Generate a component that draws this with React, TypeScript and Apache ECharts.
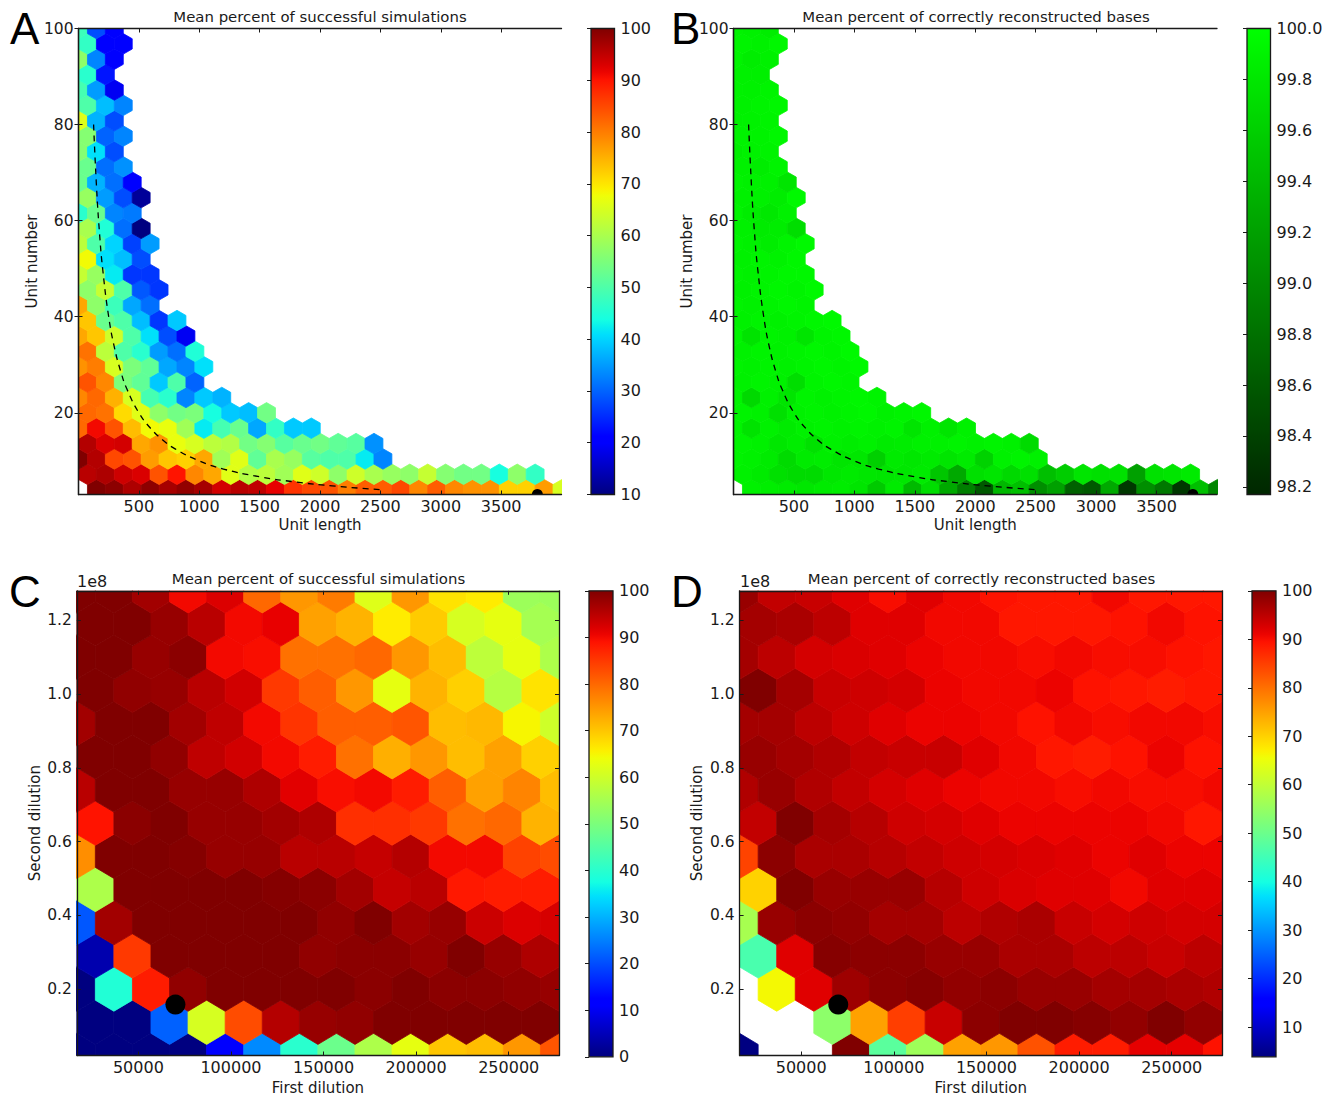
import React, { useEffect, useRef } from "react";
import * as echarts from "echarts";

const FONT = "DejaVu Sans";
const INK = "#1a1a1a";

// Panel A: mean percent of successful simulations, rows bottom to top
const successByUnit: (number | null)[][] = [
  [null,100,99,96.5,99,97,98.5,97,93.5,95.5,95,92,87,85,84,80,83,83,85,79,83,79,78,78,72,72,77,65],
  [95.5,96.5,94,93,84,90,79,76,66,61,62,59,66,64,57,64,60,58,57,63,56,54,54,44,57,47],
  [100,96,85,84,77,73,72,76,59,66,52,60,58,51,50,50,42,33],
  [96,93,93.5,76,78,67,65,62,61,54,56,51,53,54,52,51,34],
  [82,91,84,74,68,67,59,42,49,53,36,47,39,39],
  [82,81,71,66,57,54,55,44,39,38,54],
  [79,82,75,65,49,46,33,39,37],
  [84,79,55,52,39,50,30],
  [78,80,65,55,52,36,33,41],
  [81,62,50,46,35,31,45],
  [76,73,64,50,41,28,19],
  [73,53,50,38,26,39],
  [76,57,48,36,31],
  [57,63,50,29,26],
  [63,58,42,26,26],
  [68,41,38,28],
  [62,50,40,27,35],
  [60,45,31,10],
  [46,53,33,32],
  [58,35,28,12],
  [53,37,31,21],
  [53,31,34],
  [56,41,28],
  [56,30,33],
  [66,37,28],
  [50,38,33],
  [49,35,19],
  [46,23],
  [57,33,20],
  [47,20,20],
  [48,28,20],
];

// Panel B: mean percent of correctly reconstructed bases, rows bottom to top
const basesByUnit: (number | null)[][] = [
  [null,99.88,99.86,99.83,99.8,99.83,99.85,99.78,99.55,99.83,99.42,99.72,99.27,98.92,98.6,99.4,99.46,99.05,99.2,98.67,98.6,99.27,98.32,99.05,98.86,98.32,99.46,98.98],
  [99.88,99.83,99.74,99.7,99.7,99.8,99.83,99.8,99.78,99.8,99.83,99.52,99.27,99.74,99.78,99.68,99.74,99.46,99.58,99.78,99.74,99.75,99.2,99.75,99.78,99.83],
  [99.91,99.88,99.83,99.7,99.83,99.85,99.78,99.8,99.6,99.83,99.8,99.83,99.78,99.83,99.62,99.88,99.91,99.88],
  [99.91,99.88,99.8,99.85,99.75,99.88,99.85,99.88,99.83,99.85,99.88,99.88,99.91,99.88,99.91,99.88,99.7],
  [99.91,99.76,99.88,99.83,99.88,99.91,99.88,99.91,99.88,99.91,99.78,99.88,99.78,99.88],
  [99.91,99.88,99.74,99.88,99.91,99.88,99.91,99.93,99.88,99.91,99.93],
  [99.91,99.68,99.88,99.78,99.91,99.88,99.91,99.93,99.91],
  [99.88,99.91,99.88,99.72,99.91,99.93,99.91],
  [99.91,99.88,99.91,99.88,99.91,99.93,99.91,99.95],
  [99.88,99.91,99.88,99.91,99.93,99.91,99.95],
  [99.91,99.76,99.91,99.88,99.78,99.91,99.93],
  [99.88,99.91,99.88,99.91,99.93,99.95],
  [99.91,99.88,99.91,99.93,99.91],
  [99.88,99.91,99.93,99.91,99.95],
  [99.91,99.88,99.91,99.93,99.93],
  [99.88,99.91,99.89,99.93],
  [99.91,99.88,99.85,99.91,99.95],
  [99.88,99.83,99.85,99.72],
  [99.91,99.85,99.81,99.88],
  [99.88,99.88,99.85,99.95],
  [99.91,99.88,99.88,99.78],
  [99.88,99.85,99.91],
  [99.86,99.89,99.9],
  [99.89,99.9,99.93],
  [99.88,99.89,99.91],
  [99.88,99.91,99.93],
  [99.89,99.88,99.91],
  [99.88,99.87],
  [99.91,99.85,99.88],
  [99.91,99.88,99.93],
  [99.9,99.88,99.85],
];

// Panel C: mean percent of successful simulations, rows bottom to top
const successByDilution: (number | null)[][] = [
  [0,0,0,0,12,26,40,48,56,63,70,71,75,82],
  [0,0,22,61,83,95.5,98,98.5,100,100,100,100,100],
  [0,39,88,98.5,100,100,100,100,99,100,99,99,98.5,98],
  [4,85,100,100,100,100,98.5,99,99,98,100,98,96],
  [21,97,100,100,100,100,100,98.5,100,97,98,93.5,92,92.5],
  [56,100,100,100,100,99.5,99,97,94,95,88.5,88,88],
  [76,100,100,99.5,98,98,95,95,94,95.5,90,90,84,83],
  [89,99,100,98,98,97,96,86,86,85,79,80,72],
  [95,100,100,98,98,96,91.5,89.5,90,88,81,74,77,71],
  [100,100,98.5,94.5,93,90,88,79,72.5,75,71,74,69],
  [97,100,100,97,94.5,90,85.5,81,81,82,71,71.5,65,60],
  [100,98.5,98,95,93,85,81,75,63,72,69,57,67],
  [100,100,98,99,90,89.5,79,79,80,75,71,58,63,56],
  [100,100,98,95,90,91,74,72,66,69.5,61,63,55],
  [100,100,97,90,92,80,75,78,62,75,67,66,54,54],
];

// Panel D: mean percent of correctly reconstructed bases, rows bottom to top
const basesByDilution: (number | null)[][] = [
  [4,null,null,100,48,56,75,76,83,88.5,88.5,91.5,91.5,89.5],
  [null,null,54,75,85,94,99,100,100,99.5,98.5,100,98.5],
  [null,66,92,97.5,99,99.5,98.5,99,98,98,97,97,96.5,96],
  [46,92,99.5,99,99,98,98,96.5,96.5,95,95,94,95],
  [57,98,99,98.5,97,97,95,96,96.5,94,93,93.5,93,93],
  [70,100,98,98,98,95.5,93.5,92.5,92,92,90.5,92,92],
  [84.5,99,96.5,96.5,95.5,94.5,93.5,93,92.5,92,91,92,91,91],
  [94.5,100,97,95.5,93.5,93,92,91,91,91,91,90.5,89],
  [96,98,96,94.5,93,92,91,90.5,90.5,90,90.5,90,90,90.5],
  [98,97,96,94.5,94,94,92,90.5,89,88.5,89.5,91,89.5],
  [97,97,95,93.5,92,91,91,90.5,89.5,90.5,90,90.5,90.5,90],
  [100,97,94,93.5,93,91,90.5,90.5,91,89.5,89,88.5,89],
  [97,95,93,92.5,92,91,90.5,90.5,90,90.5,90,90,89.5,89],
  [97,96.5,95,92,92,90.5,90.5,89,89,89,89.5,90.5,89.5],
  [98,94.5,94,92,90,92,90.5,89.5,89,89,90.5,89,89,89],
];

// Dashed reference curve (unit length, unit number)
const curveLength = [125,150,175,200,250,300,350,400,500,600,700,800,1000,1200,1500,1800,2100,2500];
const curveUnits = [80,66.7,57.1,50,40,33.3,28.6,25,20,16.7,14.3,12.5,10,8.3,6.7,5.6,4.8,4];

// Black markers
const markerUnit: [number, number] = [3800, 3];
const markerDilution: [number, number] = [70000, 0.158];

// Tick labels
const unitLengthTicks = [500,1000,1500,2000,2500,3000,3500];
const unitNumberTicks = [20,40,60,80,100];
const firstDilutionTicks = [50000,100000,150000,200000,250000];
const secondDilutionTicks = [0.2,0.4,0.6,0.8,1.0,1.2];
const barTicksA = [10,20,30,40,50,60,70,80,90,100];
const barTicksB = [98.2,98.4,98.6,98.8,99.0,99.2,99.4,99.6,99.8,100.0];
const barTicksC = [0,10,20,30,40,50,60,70,80,90,100];
const barTicksD = [10,20,30,40,50,60,70,80,90,100];

const TITLE_SIM = "Mean percent of successful simulations";
const TITLE_BASES = "Mean percent of correctly reconstructed bases";

function lerpChannel(stops: number[][], f: number) {
  for (let i = 1; i < stops.length; i++) {
    if (f <= stops[i][0]) {
      const [a, va] = stops[i - 1];
      const [b, vb] = stops[i];
      return va + ((vb - va) * (f - a)) / (b - a);
    }
  }
  return stops[stops.length - 1][1];
}
const R = [[0,0],[0.35,0],[0.66,1],[0.89,1],[1,0.5]];
const G = [[0,0],[0.125,0],[0.375,1],[0.64,1],[0.91,0],[1,0]];
const B = [[0,0.5],[0.11,1],[0.34,1],[0.65,0],[1,0]];
const rgb = (r: number, g: number, b: number) =>
  `rgb(${Math.round(r * 255)},${Math.round(g * 255)},${Math.round(b * 255)})`;
const jet = (f: number) => {
  const t = Math.max(0, Math.min(1, f));
  return rgb(lerpChannel(R, t), lerpChannel(G, t), lerpChannel(B, t));
};
const greens = (f: number) => rgb(0, 0.15 + 0.85 * Math.max(0, Math.min(1, f)), 0);

type Panel = {
  rows: (number | null)[][];
  title: string;
  titleX: number;
  titleY: number;
  grid: { left: number; top: number; width: number; height: number };
  bar: { left: number; width: number; min: number; max: number; ticks: number[]; digits: number };
  x: { min: number; max: number; ticks: number[]; name: string; gap: number };
  y: { min: number; max: number; ticks: number[]; name: string; digits: number; gap: number };
  hex: { x0: number; sx: number; y0: number; sy: number };
  cmap: (f: number) => string;
  curve: boolean;
  marker: [number, number];
  markerRadius: number;
};

const panels: Panel[] = [
  {
    rows: successByUnit, title: TITLE_SIM, titleX: 320, titleY: 9.5,
    grid: { left: 78.5, top: 28.5, width: 483, height: 466 },
    bar: { left: 591, width: 23.5, min: 10, max: 100, ticks: barTicksA, digits: 0 },
    x: { min: 0, max: 4000, ticks: unitLengthTicks, name: "Unit length", gap: 23 },
    y: { min: 3, max: 100, ticks: unitNumberTicks, name: "Unit number", digits: 0, gap: 39 },
    hex: { x0: 0, sx: 148.3, y0: 4, sy: 6.4 },
    cmap: jet, curve: true, marker: markerUnit, markerRadius: 5.5,
  },
  {
    rows: basesByUnit, title: TITLE_BASES, titleX: 976, titleY: 9.5,
    grid: { left: 733.5, top: 28.5, width: 483.5, height: 466 },
    bar: { left: 1247, width: 23.5, min: 98.17, max: 100, ticks: barTicksB, digits: 1 },
    x: { min: 0, max: 4000, ticks: unitLengthTicks, name: "Unit length", gap: 23 },
    y: { min: 3, max: 100, ticks: unitNumberTicks, name: "Unit number", digits: 0, gap: 39 },
    hex: { x0: 0, sx: 148.3, y0: 4, sy: 6.4 },
    cmap: greens, curve: true, marker: markerUnit, markerRadius: 5.5,
  },
  {
    rows: successByDilution, title: TITLE_SIM, titleX: 318.5, titleY: 571.5,
    grid: { left: 76.8, top: 590.8, width: 482.2, height: 466 },
    bar: { left: 589, width: 24, min: 0, max: 100, ticks: barTicksC, digits: 0 },
    x: { min: 16740, max: 277160, ticks: firstDilutionTicks, name: "First dilution", gap: 24.5 },
    y: { min: 0.02, max: 1.28, ticks: secondDilutionTicks, name: "Second dilution", digits: 1, gap: 34 },
    hex: { x0: 16740, sx: 20032, y0: 0.02, sy: 0.18 },
    cmap: jet, curve: false, marker: markerDilution, markerRadius: 10,
  },
  {
    rows: basesByDilution, title: TITLE_BASES, titleX: 981.5, titleY: 571.5,
    grid: { left: 739.6, top: 590.8, width: 482.4, height: 466 },
    bar: { left: 1252, width: 24, min: 3.87, max: 100, ticks: barTicksD, digits: 0 },
    x: { min: 16740, max: 277160, ticks: firstDilutionTicks, name: "First dilution", gap: 24.5 },
    y: { min: 0.02, max: 1.28, ticks: secondDilutionTicks, name: "Second dilution", digits: 1, gap: 35 },
    hex: { x0: 16740, sx: 20032, y0: 0.02, sy: 0.18 },
    cmap: jet, curve: false, marker: markerDilution, markerRadius: 10,
  },
];

const letters = [
  { text: "A", x: 10, y: 6 },
  { text: "B", x: 671, y: 6 },
  { text: "C", x: 9, y: 569 },
  { text: "D", x: 671, y: 569 },
];

function buildOption() {
  const grid: any[] = [];
  const xAxis: any[] = [];
  const yAxis: any[] = [];
  const series: any[] = [];
  const title: any[] = [];

  const tickStyle = { lineStyle: { color: INK, width: 1 }, length: 4, inside: true };
  const lineStyle = { lineStyle: { color: INK, width: 1.3 } };

  panels.forEach((p) => {
    const g = grid.length;
    grid.push({ ...p.grid });
    const xi = xAxis.length;
    const yi = yAxis.length;
    title.push({
      text: p.title, left: p.titleX, top: p.titleY, textAlign: "center", padding: 0,
      textStyle: { fontFamily: FONT, fontSize: 14.9, fontWeight: "normal", color: INK },
    });
    xAxis.push(
      {
        type: "value", gridIndex: g, min: p.x.min, max: p.x.max, z: 6, position: "bottom",
        name: p.x.name, nameLocation: "middle", nameGap: p.x.gap,
        nameTextStyle: { fontFamily: FONT, fontSize: 15, color: INK },
        splitLine: { show: false }, axisLine: { show: true, ...lineStyle },
        axisTick: { ...tickStyle, customValues: p.x.ticks },
        axisLabel: { customValues: p.x.ticks, fontFamily: FONT, fontSize: 16, color: INK, margin: 4, formatter: (v: number) => String(v) },
      },
      {
        type: "value", gridIndex: g, min: p.x.min, max: p.x.max, z: 6, position: "top",
        splitLine: { show: false }, axisLine: { show: true, ...lineStyle },
        axisTick: { ...tickStyle, customValues: p.x.ticks }, axisLabel: { show: false },
      },
    );
    yAxis.push(
      {
        type: "value", gridIndex: g, min: p.y.min, max: p.y.max, z: 6, position: "left",
        name: p.y.name, nameLocation: "middle", nameGap: p.y.gap, nameRotate: 90,
        nameTextStyle: { fontFamily: FONT, fontSize: 15, color: INK },
        splitLine: { show: false }, axisLine: { show: true, ...lineStyle },
        axisTick: { ...tickStyle, customValues: p.y.ticks },
        axisLabel: { customValues: p.y.ticks, fontFamily: FONT, fontSize: 15.5, color: INK, margin: 5, formatter: (v: number) => v.toFixed(p.y.digits) },
      },
      {
        type: "value", gridIndex: g, min: p.y.min, max: p.y.max, z: 6, position: "right",
        splitLine: { show: false }, axisLine: { show: true, ...lineStyle },
        axisTick: { ...tickStyle, customValues: p.y.ticks }, axisLabel: { show: false },
      },
    );

    const { x0, sx, y0, sy } = p.hex;
    const data: number[][] = [];
    p.rows.forEach((row, j) => {
      row.forEach((v, i) => {
        if (v === null) return;
        data.push([x0 + (i + (j % 2 ? 0.5 : 0)) * sx, y0 + (j * sy) / 2, v]);
      });
    });
    const span = p.bar.max - p.bar.min;
    series.push({
      type: "custom", coordinateSystem: "cartesian2d", xAxisIndex: xi, yAxisIndex: yi, clip: true, z: 2,
      encode: { x: 0, y: 1 }, data, silent: true,
      renderItem: (_: any, api: any) => {
        const cx = api.value(0);
        const cy = api.value(1);
        const fill = p.cmap((api.value(2) - p.bar.min) / span);
        const pts = [
          [cx + sx / 2, cy - sy / 6], [cx + sx / 2, cy + sy / 6], [cx, cy + sy / 3],
          [cx - sx / 2, cy + sy / 6], [cx - sx / 2, cy - sy / 6], [cx, cy - sy / 3],
        ].map((q) => api.coord(q));
        return { type: "polygon", shape: { points: pts }, style: { fill, stroke: fill, lineWidth: 0.8 } };
      },
    });
    if (p.curve) {
      series.push({
        type: "line", xAxisIndex: xi, yAxisIndex: yi, showSymbol: false, smooth: true, z: 3, silent: true,
        data: curveLength.map((x, i) => [x, curveUnits[i]]),
        lineStyle: { color: "#000", width: 1.3, type: [6, 5] },
      });
    }
    series.push({
      type: "custom", coordinateSystem: "cartesian2d", xAxisIndex: xi, yAxisIndex: yi, z: 4, silent: true, clip: true,
      encode: { x: 0, y: 1 }, data: [p.marker],
      renderItem: (_: any, api: any) => {
        const c = api.coord([api.value(0), api.value(1)]);
        return { type: "circle", shape: { cx: c[0], cy: c[1], r: p.markerRadius }, style: { fill: "#000" } };
      },
    });

    // colour bar
    const gb = grid.length;
    grid.push({ left: p.bar.left, width: p.bar.width, top: p.grid.top, height: p.grid.height });
    const xb = xAxis.length;
    const yb = yAxis.length;
    xAxis.push({ type: "value", gridIndex: gb, min: 0, max: 1, show: false });
    yAxis.push({
      type: "value", gridIndex: gb, min: p.bar.min, max: p.bar.max, position: "right", z: 6,
      splitLine: { show: false }, axisLine: { show: false },
      axisTick: { ...tickStyle, customValues: p.bar.ticks },
      axisLabel: { customValues: p.bar.ticks, fontFamily: FONT, fontSize: 16, color: INK, margin: 6, formatter: (v: number) => v.toFixed(p.bar.digits) },
    });
    const stops = Array.from({ length: 65 }, (_, i) => ({ offset: i / 64, color: p.cmap(1 - i / 64) }));
    series.push({
      type: "custom", coordinateSystem: "cartesian2d", xAxisIndex: xb, yAxisIndex: yb, z: 2, silent: true,
      encode: { x: 0, y: 1 }, data: [[0, p.bar.min]],
      renderItem: (_: any, api: any) => {
        const a = api.coord([0, p.bar.max]);
        const b = api.coord([1, p.bar.min]);
        return {
          type: "rect",
          shape: { x: a[0], y: a[1], width: b[0] - a[0], height: b[1] - a[1] },
          style: { fill: new echarts.graphic.LinearGradient(0, 0, 0, 1, stops), stroke: INK, lineWidth: 1.3 },
        };
      },
    });
  });

  const graphic: any[] = letters.map((l) => ({
    type: "text", x: l.x, y: l.y, z: 20,
    style: { text: l.text, font: "44px 'Liberation Sans'", fill: "#000" },
  }));
  graphic.push(
    { type: "text", x: 77, y: 573, z: 20, style: { text: "1e8", font: `16px '${FONT}'`, fill: INK } },
    { type: "text", x: 740, y: 573, z: 20, style: { text: "1e8", font: `16px '${FONT}'`, fill: INK } },
  );

  return { animation: false, backgroundColor: "#fff", title, grid, xAxis, yAxis, series, graphic };
}

export default function App() {
  const ref = useRef<HTMLDivElement>(null);
  useEffect(() => {
    document.body.style.margin = "0";
    const chart = echarts.init(ref.current!, undefined, { renderer: "svg" });
    chart.setOption(buildOption() as any);
    return () => chart.dispose();
  }, []);
  return <div ref={ref} style={{ width: 1331, height: 1096 }} />;
}
